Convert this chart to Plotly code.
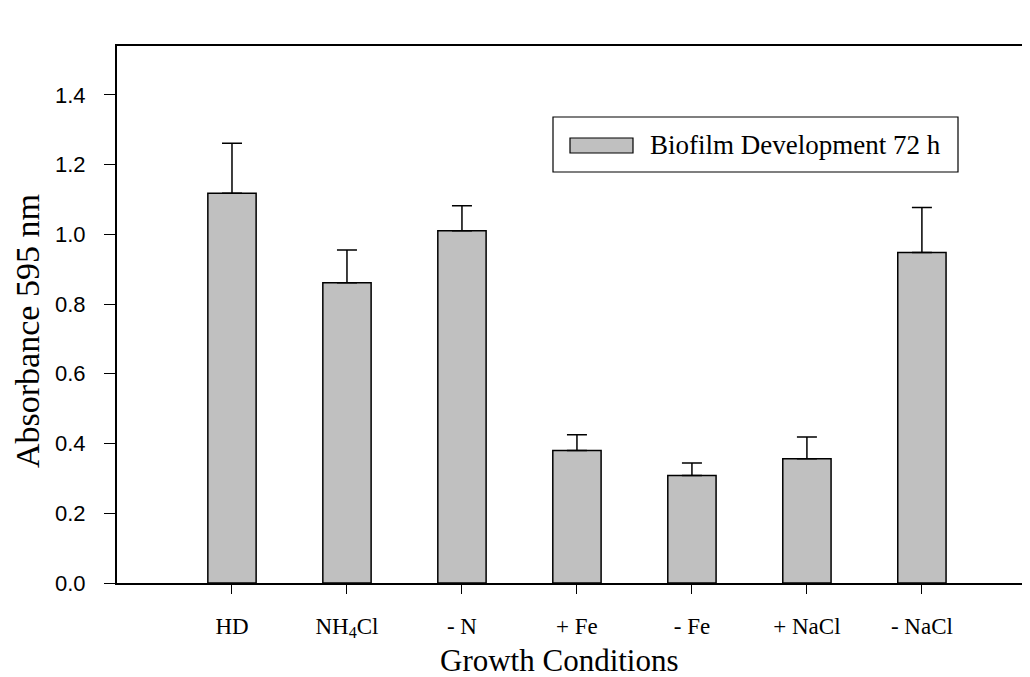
import plotly.graph_objects as go

categories = ["HD", "NH<sub>4</sub>Cl", "- N", "+ Fe", "- Fe", "+ NaCl", "- NaCl"]
values = [1.118, 0.861, 1.010, 0.380, 0.308, 0.356, 0.948]
err_upper = [0.143, 0.094, 0.072, 0.045, 0.036, 0.063, 0.129]
y_ticks = [0.0, 0.2, 0.4, 0.6, 0.8, 1.0, 1.2, 1.4]
series_name = "Biofilm Development 72 h"
x_title = "Growth Conditions"
y_title = "Absorbance 595 nm"

xpos = list(range(len(categories)))

# page body has an 8px margin; figure sized to fit the 1030x677 window
OFF = 8
W, H = 1030 - OFF, 677 - OFF
L, R, T, B = 117 - OFF, 0, 46 - OFF, 677 - 583
pw, ph = W - L - R, H - T - B


def px(x):
    return (x - 117) / pw


def py(y):
    return (583 - y) / ph


fig = go.Figure()
fig.add_trace(go.Bar(
    x=xpos, y=values, width=0.42, name=series_name,
    marker=dict(color="#C0C0C0", line=dict(color="black", width=1.5)),
    error_y=dict(type="data", array=err_upper, arrayminus=[0] * len(values),
                 symmetric=False, color="black", thickness=1.5, width=10),
    showlegend=False,
))

times = "Liberation Serif, Times New Roman, serif"
arial = "Liberation Sans, Arial, sans-serif"

fig.update_layout(
    width=W, height=H,
    margin=dict(l=L, r=R, t=T, b=B),
    plot_bgcolor="white", paper_bgcolor="white",
    xaxis=dict(
        range=[-1.0, 6.94], tickvals=xpos, ticktext=categories,
        showline=True, linecolor="black", linewidth=2, mirror=True,
        ticks="outside", ticklen=9, tickwidth=1, tickcolor="black",
        ticklabelstandoff=12,
        showgrid=False, zeroline=False,
        tickfont=dict(family=times, size=23, color="black"),
    ),
    yaxis=dict(
        range=[0, 1.54], tickvals=y_ticks, tickformat=".1f",
        showline=True, linecolor="black", linewidth=2,
        ticks="outside", ticklen=11, tickwidth=1, tickcolor="black",
        ticklabelstandoff=14,
        showgrid=False, zeroline=False,
        tickfont=dict(family=arial, size=22, color="black"),
    ),
    shapes=[
        dict(type="rect", xref="paper", yref="paper",
             x0=px(553), x1=px(958), y0=py(172), y1=py(117),
             line=dict(color="black", width=1.2), fillcolor="white"),
        dict(type="rect", xref="paper", yref="paper",
             x0=px(570), x1=px(633), y0=py(153), y1=py(138),
             line=dict(color="black", width=1.2), fillcolor="#C0C0C0"),
    ],
    annotations=[
        dict(text=series_name, xref="paper", yref="paper", x=px(648), y=py(145),
             xanchor="left", yanchor="middle", showarrow=False,
             font=dict(family=times, size=27, color="black")),
        dict(text=x_title, xref="paper", yref="paper", x=px(559), y=py(660),
             xanchor="center", yanchor="middle", showarrow=False,
             font=dict(family=times, size=31, color="black")),
        dict(text=y_title, xref="paper", yref="paper", x=px(27), y=py(331),
             xanchor="center", yanchor="middle", showarrow=False, textangle=-90,
             font=dict(family=times, size=34, color="black")),
    ],
)

fig.write_html("out.html")
